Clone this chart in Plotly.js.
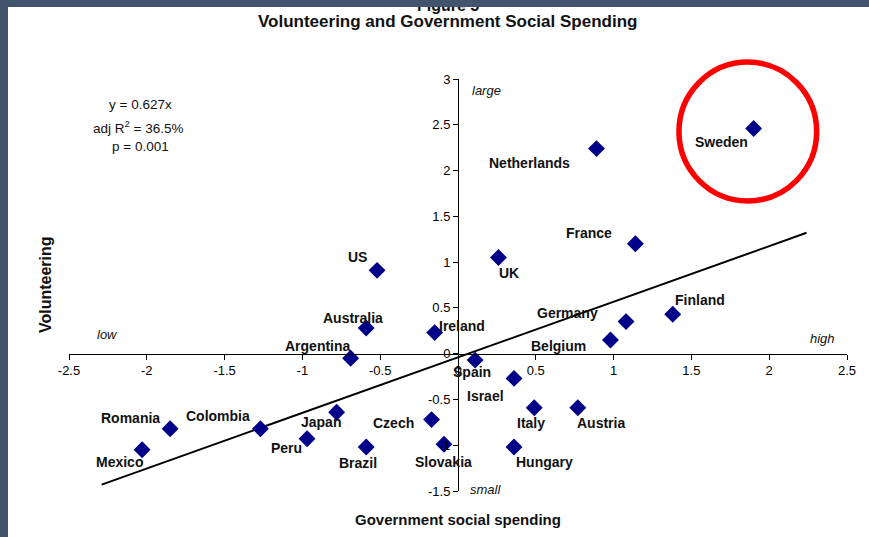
<!DOCTYPE html>
<html>
<head>
<meta charset="utf-8">
<script src="https://cdn.plot.ly/plotly-3.0.1.min.js"></script>
<style>
  html, body { margin: 0; padding: 0; width: 869px; height: 537px; overflow: hidden;
    background: #41546b; }
  #chart { position: absolute; left: 8px; top: 7px; width: 861px; height: 530px; background: #fff; }
</style>
</head>
<body>
<div id="chart"></div>
<script>
// ---- Data ----
const countries = ["Sweden","Netherlands","France","UK","US","Finland","Germany","Belgium",
  "Australia","Ireland","Argentina","Spain","Israel","Italy","Austria","Hungary","Czech",
  "Slovakia","Brazil","Japan","Peru","Colombia","Romania","Mexico"];
const spending = [1.90, 0.89, 1.14, 0.26, -0.52, 1.38, 1.08, 0.98,
  -0.59, -0.15, -0.69, 0.11, 0.36, 0.49, 0.77, 0.36, -0.17,
  -0.09, -0.59, -0.78, -0.97, -1.27, -1.85, -2.03];
const volunteering = [2.46, 2.24, 1.20, 1.05, 0.91, 0.43, 0.35, 0.15,
  0.28, 0.23, -0.05, -0.07, -0.27, -0.59, -0.59, -1.02, -0.72,
  -0.99, -1.02, -0.64, -0.93, -0.82, -0.82, -1.05];
const fitX = [-2.29, 2.24];
const fitY = [-1.43, 1.32];
const xTicks = [-2.5, -2, -1.5, -1, -0.5, 0, 0.5, 1, 1.5, 2, 2.5];
const xTickText = ["-2.5","-2","-1.5","-1","-0.5","0","0.5","1","1.5","2","2.5"];
const yTicks = [-1.5, -1, -0.5, 0, 0.5, 1, 1.5, 2, 2.5, 3];
const yTickText = ["-1.5","-1","-0.5","0","0.5","1","1.5","2","2.5","3"];

// ---- Label placement (pixel shifts, style only) ----
const labelShift = [[-32,-14],[-67,-14],[-46,11],[11,-15],[-20,13],[27,14],[-59,9],[-52,-6],
  [-13,10],[27,7],[-33,12],[-3,-12],[-29,-18],[-3,-15],[23,-15],[30,-15],[-38,-3],
  [-1,-18],[-8,-16],[-16,-10],[-21,-9],[-42,13],[-40,11],[-23,-12]];

const FONT = "Liberation Sans, Arial, sans-serif";

const traces = [
  { x: fitX, y: fitY, mode: "lines", type: "scatter",
    line: { color: "#000", width: 2 }, hoverinfo: "skip", showlegend: false },
  { x: spending, y: volunteering, mode: "markers", type: "scatter",
    marker: { symbol: "diamond", size: 13, color: "#000088" }, text: countries,
    showlegend: false }
];

const annotations = countries.map((c, i) => ({
  x: spending[i], y: volunteering[i], xref: "x", yref: "y", text: c, showarrow: false,
  xshift: labelShift[i][0], yshift: labelShift[i][1],
  font: { family: FONT, size: 14, color: "#111", weight: "bold" }
}));

function paperText(text, x, y, size, opts) {
  return Object.assign({ text, x, y, xref: "paper", yref: "paper", showarrow: false,
    xanchor: "center", yanchor: "middle",
    font: { family: FONT, size, color: "#111" } }, opts || {});
}
annotations.push(
  paperText("<b>Figure 5</b>", 0.487, 1.179, 16),
  paperText("<b>Volunteering and Government Social Spending</b>", 0.486, 1.139, 17),
  paperText("<i>large</i>", 0.536, 0.971, 13),
  paperText("<i>small</i>", 0.535, 0.003, 13),
  paperText("<i>low</i>", 0.049, 0.381, 13),
  paperText("<i>high</i>", 0.968, 0.371, 13),
  paperText("y = 0.627x", 0.0913, 0.939, 13.5),
  paperText("adj R<sup>2</sup> = 36.5%", 0.0887, 0.883, 13.5),
  paperText("p = 0.001", 0.0913, 0.835, 13.5),
  paperText("<b>Volunteering</b>", -0.0308, 0.5, 16, { textangle: -90 }),
  paperText("<b>Government social spending</b>", 0.5, -0.070, 15)
);

const layout = {
  width: 861, height: 530,
  margin: { l: 61, r: 22, t: 72, b: 46 },
  paper_bgcolor: "#fff", plot_bgcolor: "#fff",
  showlegend: false,
  xaxis: {
    range: [-2.5, 2.5], anchor: "free", position: 1/3,
    tickvals: xTicks, ticktext: xTickText,
    showline: true, linecolor: "#000", linewidth: 1,
    ticks: "outside", ticklen: 5, tickcolor: "#000",
    showgrid: false, zeroline: false,
    tickfont: { family: FONT, size: 13, color: "#000" }
  },
  yaxis: {
    range: [-1.5, 3], anchor: "free", position: 0.5,
    tickvals: yTicks, ticktext: yTickText,
    showline: true, linecolor: "#000", linewidth: 1,
    ticks: "outside", ticklen: 5, tickcolor: "#000",
    showgrid: false, zeroline: false,
    tickfont: { family: FONT, size: 13, color: "#000" }
  },
  shapes: [
    { type: "circle", xref: "paper", yref: "paper",
      x0: 0.784, x1: 0.961, y0: 0.704, y1: 1.041,
      line: { color: "#ff0000", width: 5.5 } }
  ],
  annotations: annotations
};

Plotly.newPlot("chart", traces, layout, { displayModeBar: false, staticPlot: true });
</script>
</body>
</html>
